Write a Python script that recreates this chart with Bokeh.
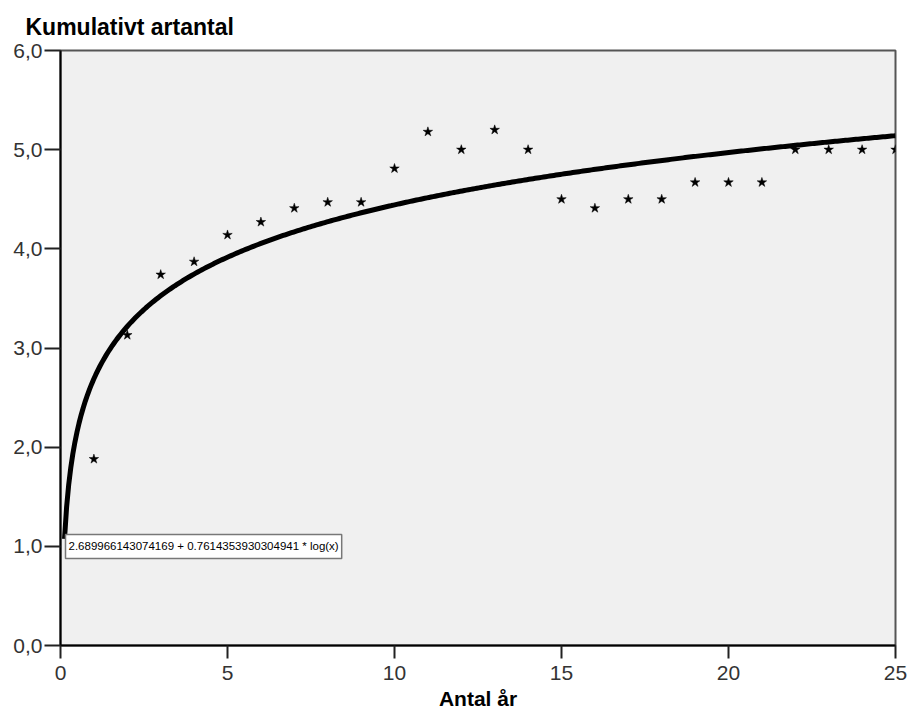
from bokeh.plotting import figure
from bokeh.models import Range1d, FixedTicker, Label, Title
from bokeh.embed import file_html
from bokeh.resources import INLINE
import numpy as np

# Observed cumulative species count per number of years
years = [1, 2, 3, 4, 5, 6, 7, 8, 9, 10, 11, 12, 13, 14, 15, 16, 17, 18, 19, 20, 21, 22, 23, 24, 25]
species = [1.88, 3.13, 3.74, 3.87, 4.14, 4.27, 4.41, 4.47, 4.47, 4.81, 5.18, 5.00, 5.20, 5.00,
           4.50, 4.41, 4.50, 4.50, 4.67, 4.67, 4.67, 5.00, 5.00, 5.00, 5.00]

# Logarithmic fit coefficients
fit_intercept = 2.689966143074169
fit_slope = 0.7614353930304941
fit_label = "2.689966143074169 + 0.7614353930304941 * log(x)"

x_ticks = [0, 5, 10, 15, 20, 25]
y_ticks = [0, 1, 2, 3, 4, 5, 6]
y_tick_labels = ["0,0", "1,0", "2,0", "3,0", "4,0", "5,0", "6,0"]

FONT = "Liberation Sans"

p = figure(width=910, height=717, output_backend="svg", toolbar_location=None,
           x_range=Range1d(0, 25), y_range=Range1d(0, 6),
           min_border_left=60, min_border_right=15, min_border_top=50, min_border_bottom=72)
p.border_fill_color = "white"
p.background_fill_color = "#f0f0f0"
p.outline_line_color = "#555555"
p.outline_line_width = 2
p.grid.visible = False

title = Title(text="Kumulativt artantal", align="left", offset=-35,
              text_font=FONT, text_font_size="23px", text_font_style="bold",
              text_color="black", standoff=22)
p.add_layout(title, "above")

# Fitted curve
x_fit = np.linspace(0.12, 25, 400)
y_fit = fit_intercept + fit_slope * np.log(x_fit)
p.line(x_fit, y_fit, line_color="black", line_width=5)

# Observations
p.scatter(years, species, marker="star", size=10, fill_color="black",
          line_color="black", line_width=0.5)

p.add_layout(Label(x=0.15, y=1.12, text=fit_label, anchor="top_left",
                   text_font=FONT, text_font_size="11.5px", text_color="black",
                   background_fill_color="white", border_line_color="#777777",
                   border_line_width=1.5,
                   padding=dict(left=3, right=3, top=6, bottom=6)))

for ax in (p.xaxis[0], p.yaxis[0]):
    ax.axis_line_color = "black"
    ax.axis_line_width = 2
    ax.major_tick_line_color = "#222222"
    ax.major_tick_line_width = 2
    ax.major_tick_in = 0
    ax.minor_tick_line_color = None
    ax.major_label_text_font = FONT
    ax.major_label_text_font_size = "21px"
    ax.major_label_text_color = "#333333"

p.xaxis.ticker = FixedTicker(ticks=x_ticks)
p.xaxis.major_tick_out = 13
p.xaxis.major_label_standoff = 7
p.xaxis.axis_label = "Antal år"
p.xaxis.axis_label_text_font = FONT
p.xaxis.axis_label_text_font_size = "21px"
p.xaxis.axis_label_text_font_style = "bold"
p.xaxis.axis_label_text_color = "black"
p.xaxis.axis_label_standoff = 4

p.yaxis.ticker = FixedTicker(ticks=y_ticks)
p.yaxis.major_label_overrides = {t: lab for t, lab in zip(y_ticks, y_tick_labels)}
p.yaxis.major_tick_out = 16
p.yaxis.major_label_standoff = 2

open("out.html", "w").write(file_html(p, INLINE))
